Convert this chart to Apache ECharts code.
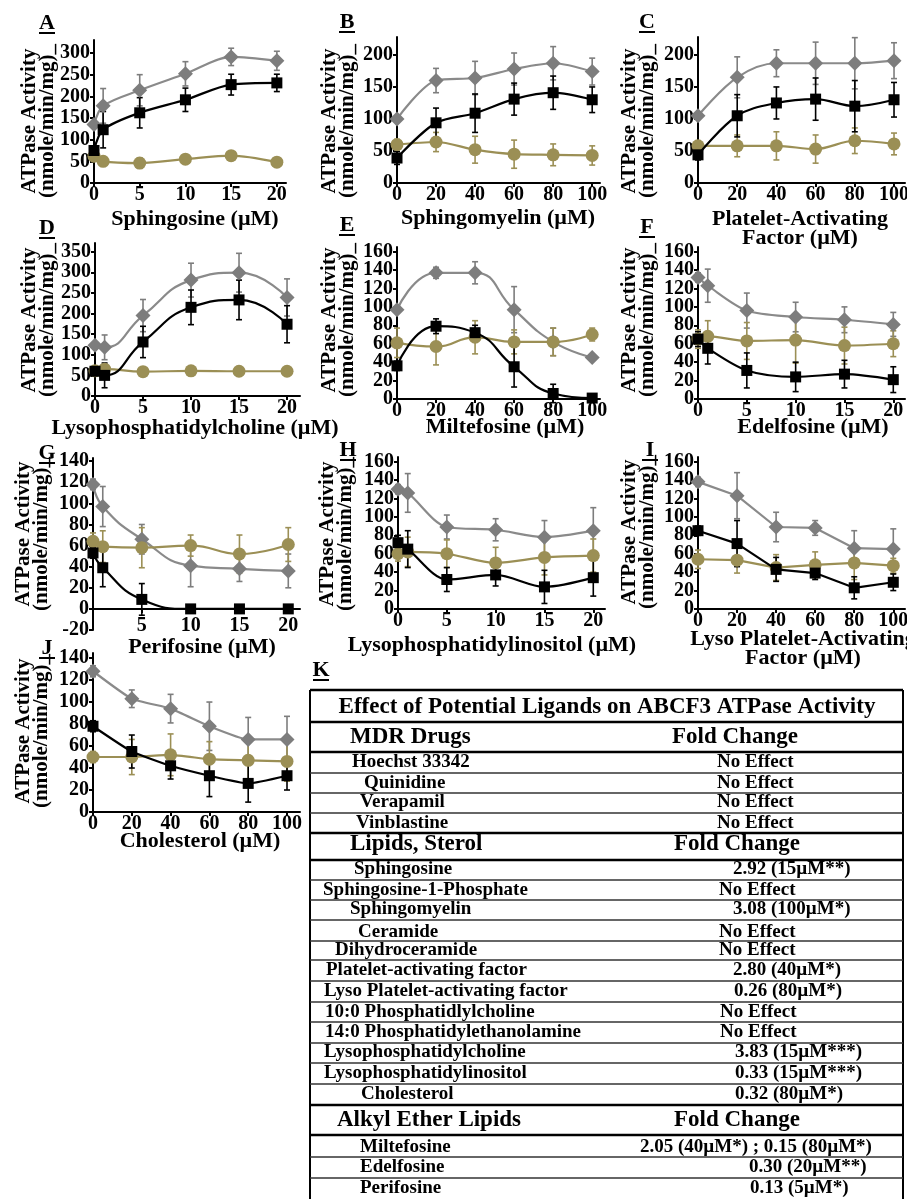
<!DOCTYPE html>
<html><head><meta charset="utf-8">
<script src="https://cdn.jsdelivr.net/npm/echarts@6/dist/echarts.min.js"></script>
<style>html,body{margin:0;padding:0;background:#fff}#c{width:907px;height:1199px}</style>
</head><body><div id="c"></div>
<script>
// ---------------- DATA ----------------
const A_x = [0,1,5,10,15,20];
const A_gray = [135,178,214,252,291,282];   const A_grayErr = [8,40,36,28,20,22];
const A_black = [75,123,162,192,227,231];   const A_blackErr = [10,42,35,27,24,20];
const A_gold = [62,50,46,55,63,48];         const A_goldErr = [12,10,12,6,6,5];

const B_x = [0,20,40,60,80,100];
const B_gray = [100,160,164,178,187,174];   const B_grayErr = [5,19,26,25,26,21];
const B_black = [39,94,109,131,141,130];    const B_blackErr = [10,23,30,25,26,20];
const B_gold = [60,64,52,45,44,43];         const B_goldErr = [8,15,21,22,17,15];

const C_x = [0,20,40,60,80,100];
const C_gray = [105,165,187,187,187,191];   const C_grayErr = [5,32,21,33,40,28];
const C_black = [44,105,125,131,120,130];   const C_blackErr = [8,33,25,33,40,27];
const C_gold = [58,58,58,53,66,61];         const C_goldErr = [8,17,22,22,20,17];

const D_x = [0,1,5,10,15,20];
const D_gray = [123,118,195,281,299,239];   const D_grayErr = [8,30,39,41,47,45];
const D_black = [60,50,131,215,233,174];    const D_blackErr = [8,30,38,42,48,45];
const D_gold = [61,65,59,61,60,60];         const D_goldErr = [6,6,5,5,4,5];

const E_x = [0,20,40,60,80,100];
const E_gray = [97,137,137,97,62,45];       const E_grayErr = [3,6,12,25,15,3];
const E_black = [36,79,72,35,6,1];          const E_blackErr = [5,8,8,22,10,1];
const E_gold = [61,57,67,62,62,70];         const E_goldErr = [16,20,18,13,15,7];

const F_x = [0,1,5,10,15,20];
const F_gray = [132,123,96,89,86,81];       const F_grayErr = [5,18,19,16,14,13];
const F_black = [65,55,31,24,27,21];        const F_blackErr = [8,17,19,16,15,14];
const F_gold = [65,68,63,64,58,60];         const F_goldErr = [10,17,20,25,20,14];

const G_x = [0,1,5,10,15,20];
const G_gray = [118,97,66,41,38,36];        const G_grayErr = [5,19,14,20,12,16];
const G_black = [53,39,9,0,0,0];            const G_blackErr = [5,18,15,1,1,1];
const G_gold = [64,59,58,60,52,61];         const G_goldErr = [8,15,19,10,18,16];

const H_x = [0,1,5,10,15,20];
const H_gray = [130,126,89,86,78,85];       const H_grayErr = [5,21,13,12,18,25];
const H_black = [72,65,32,37,24,34];        const H_blackErr = [8,20,13,12,18,20];
const H_gold = [60,62,60,50,56,58];         const H_goldErr = [8,16,15,17,19,18];

const I_x = [0,20,40,60,80,100];
const I_gray = [138,123,89,88,66,65];       const I_grayErr = [5,25,16,8,19,22];
const I_black = [85,71,43,39,23,29];        const I_blackErr = [5,25,13,7,12,9];
const I_gold = [54,53,45,48,50,47];         const I_goldErr = [10,14,14,14,18,8];

const J_x = [0,20,40,60,80,100];
const J_gray = [128,103,94,78,66,66];       const J_grayErr = [5,8,13,22,20,21];
const J_black = [78,55,42,33,26,33];        const J_blackErr = [5,15,12,19,17,13];
const J_gold = [50,50,52,48,47,46];         const J_goldErr = [5,16,19,16,18,18];

// tick labels
const ticks0to20 = [0,5,10,15,20];
const ticks5to20 = [5,10,15,20];
const ticks0to100 = [0,20,40,60,80,100];
const yTicks300 = [0,50,100,150,200,250,300];
const yTicks200 = [0,50,100,150,200];
const yTicks350 = [0,50,100,150,200,250,300,350];
const yTicks160 = [0,20,40,60,80,100,120,140,160];
const yTicksNeg = [-20,0,20,40,60,80,100,120,140];
const yTicks140 = [0,20,40,60,80,100,120,140];

const letters = ['A','B','C','D','E','F','G','H','I','J'];
const xNames = ['Sphingosine (µM)','Sphingomyelin (µM)','Platelet-Activating\nFactor (µM)',
  'Lysophosphatidylcholine (µM)','Miltefosine (µM)','Edelfosine (µM)','Perifosine (µM)',
  'Lysophosphatidylinositol (µM)','Lyso Platelet-Activating\nFactor (µM)','Cholesterol (µM)'];
const yTitle = 'ATPase Activity\n(nmole/min/mg)_';

// table
const tableLetter = 'K';
const tableTitle = 'Effect of Potential Ligands on ABCF3 ATPase Activity';
const sectionNames = ['MDR Drugs','Lipids, Sterol','Alkyl Ether Lipids'];
const sectionValue = 'Fold Change';
const rowNames = ['Hoechst 33342','Quinidine','Verapamil','Vinblastine','Sphingosine','Sphingosine-1-Phosphate',
  'Sphingomyelin','Ceramide','Dihydroceramide','Platelet-activating factor','Lyso Platelet-activating factor',
  '10:0 Phosphatidlylcholine','14:0 Phosphatidylethanolamine','Lysophosphatidylcholine','Lysophosphatidylinositol',
  'Cholesterol','Miltefosine','Edelfosine','Perifosine'];
const rowValues = ['No Effect','No Effect','No Effect','No Effect','2.92 (15µM**)','No Effect','3.08 (100µM*)',
  'No Effect','No Effect','2.80 (40µM*)','0.26 (80µM*)','No Effect','No Effect','3.83 (15µM***)','0.33 (15µM***)',
  '0.32 (80µM*)','2.05 (40µM*) ; 0.15 (80µM*)','0.30 (20µM**)','0.13 (5µM*)'];

// ---------------- LAYOUT ----------------
const FONT = '"Liberation Serif","Times New Roman",serif';
const COL = {gray:'#7d7d7d', grayLine:'#8a8a8a', black:'#000000', gold:'#9b8f55'};

const panels = [
 {x:A_x,g:A_gray,ge:A_grayErr,b:A_black,be:A_blackErr,o:A_gold,oe:A_goldErr,xt:ticks0to20,yt:yTicks300,
  L:{left:94,top:40,right:286,bottom:183,xMax:21,yMin:0,yMax:330,sm:0.3,lx:47,ly:23,tx:38.5,ty:121,nx:195,ny:219,xlm:2}},
 {x:B_x,g:B_gray,ge:B_grayErr,b:B_black,be:B_blackErr,o:B_gold,oe:B_goldErr,xt:ticks0to100,yt:yTicks200,
  L:{left:397,top:37,right:600,bottom:183,xMax:104,yMin:0,yMax:228,sm:0.3,lx:347,ly:22,tx:338.5,ty:121,nx:498,ny:218,xlm:2}},
 {x:C_x,g:C_gray,ge:C_grayErr,b:C_black,be:C_blackErr,o:C_gold,oe:C_goldErr,xt:ticks0to100,yt:yTicks200,
  L:{left:698,top:37,right:905,bottom:183,xMax:105.6,yMin:0,yMax:228,sm:0.35,lx:647,ly:22,tx:639,ty:121,nx:800,ny:229,xlm:2}},
 {x:D_x,g:D_gray,ge:D_grayErr,b:D_black,be:D_blackErr,o:D_gold,oe:D_goldErr,xt:ticks0to20,yt:yTicks350,
  L:{left:95,top:243,right:300,bottom:396,xMax:21.35,yMin:0,yMax:371,sm:0.5,lx:47,ly:228,tx:39,ty:320,nx:195,ny:428,xlm:2}},
 {x:E_x,g:E_gray,ge:E_grayErr,b:E_black,be:E_blackErr,o:E_gold,oe:E_goldErr,xt:ticks0to100,yt:yTicks160,
  L:{left:397,top:247,right:600,bottom:399,xMax:104,yMin:0,yMax:165,sm:0.5,lx:347,ly:225,tx:339,ty:320,nx:505,ny:427,xlm:2}},
 {x:F_x,g:F_gray,ge:F_grayErr,b:F_black,be:F_blackErr,o:F_gold,oe:F_goldErr,xt:ticks0to20,yt:yTicks160,
  L:{left:698,top:247,right:905,bottom:399,xMax:21.2,yMin:0,yMax:165,sm:0.3,lx:647,ly:227,tx:639,ty:320,nx:813,ny:427,xlm:2}},
 {x:G_x,g:G_gray,ge:G_grayErr,b:G_black,be:G_blackErr,o:G_gold,oe:G_goldErr,xt:ticks0to20,xl:ticks5to20,yt:yTicksNeg,
  L:{left:93,top:458,right:300,bottom:630,xMax:21.2,yMin:-20,yMax:143,sm:0.5,lx:47,ly:453,tx:33,ty:534,nx:202,ny:647,xlm:-14}},
 {x:H_x,g:H_gray,ge:H_grayErr,b:H_black,be:H_blackErr,o:H_gold,oe:H_goldErr,xt:ticks0to20,yt:yTicks160,
  L:{left:398,top:457,right:605,bottom:609,xMax:21.2,yMin:0,yMax:165,sm:0.3,lx:348,ly:450,tx:337,ty:534,nx:492,ny:645,xlm:2}},
 {x:I_x,g:I_gray,ge:I_grayErr,b:I_black,be:I_blackErr,o:I_gold,oe:I_goldErr,xt:ticks0to100,yt:yTicks160,
  L:{left:698,top:457,right:905,bottom:609,xMax:106,yMin:0,yMax:165,sm:0,lx:650,ly:450,tx:639,ty:532,nx:803,ny:649,xlm:2}},
 {x:J_x,g:J_gray,ge:J_grayErr,b:J_black,be:J_blackErr,o:J_gold,oe:J_goldErr,xt:ticks0to100,yt:yTicks140,
  L:{left:93,top:653,right:300,bottom:812,xMax:106.7,yMin:0,yMax:144.6,sm:0.15,lx:47,ly:648,tx:33,ty:731,nx:200,ny:841,xlm:2}}
];

// table layout
const TBL = {left:310,right:903,top:690,titleX:607,titleY:707,letterX:321,letterY:670};
const secY = [737,844,1120];
const secX = [350,350,337];
const secValX = [672,674,674];
const rowY = [762,783,802,823,869,890,909,932,950,970,991,1012,1032,1052,1073,1094,1147,1167,1188];
const rowX = [352,364,360,356,354,323,350,358,335,326,324,325,325,324,324,361,360,360,360];
const rowValX = [717,717,717,717,733,719,733,719,719,733,734,720,720,735,735,735,640,749,750];
const thinLines = [773,793,813,880,900,920,941,960,981,1002,1022,1043,1063,1084,1157,1178];
const thickLines = [690,722,752,833,860,1105,1135];

// ---------------- BUILD ----------------
const grids=[], xAxes=[], yAxes=[], yAxesExtra=[], series=[], gfx=[];
const labelStyle = {fontFamily:FONT,fontWeight:'bold',fontSize:20,color:'#000',interval:0,showMinLabel:true,showMaxLabel:true,hideOverlap:false};
const axisLineStyle = {color:'#000',width:2};

function errSeries(idx, data, color){
  return {type:'custom', xAxisIndex:idx, yAxisIndex:idx, silent:true, z:1, data:data,
    renderItem:function(params, api){
      const x=api.value(0), y=api.value(1), e=api.value(2);
      const p0=api.coord([x,y-e]), p1=api.coord([x,y+e]);
      const cw=3, st={stroke:color,lineWidth:1.6};
      return {type:'group',children:[
        {type:'line',shape:{x1:p0[0],y1:p0[1],x2:p1[0],y2:p1[1]},style:st},
        {type:'line',shape:{x1:p1[0]-cw,y1:p1[1],x2:p1[0]+cw,y2:p1[1]},style:st},
        {type:'line',shape:{x1:p0[0]-cw,y1:p0[1],x2:p0[0]+cw,y2:p0[1]},style:st}
      ]};
    }};
}
function lineSeries(idx, data, sym, size, color, lineColor, sm, z){
  return {type:'line', xAxisIndex:idx, yAxisIndex:idx, data:data, symbol:sym, symbolSize:size,
    smooth:sm, z:z, showSymbol:true, clip:false,
    lineStyle:{color:lineColor,width:2.2}, itemStyle:{color:color, borderWidth:0}};
}

panels.forEach(function(P,i){
  const L=P.L;
  const evenLabels = P.yt.filter(function(v,k){ return k%2===0; });
  const oddLabels = P.yt.filter(function(v,k){ return k%2===1; });
  grids.push({left:L.left, top:L.top, width:L.right-L.left, height:L.bottom-L.top, outerBoundsMode:'none', containLabel:false});
  xAxes.push({type:'value', gridIndex:i, min:0, max:L.xMax,
    axisLine:{show:true,onZero:true,lineStyle:axisLineStyle},
    axisTick:{show:true,length:4,lineStyle:axisLineStyle,customValues:P.xt},
    axisLabel:Object.assign({customValues:P.xl||P.xt, margin:L.xlm}, labelStyle),
    splitLine:{show:false}});
  yAxes.push({type:'value', gridIndex:i, min:L.yMin, max:L.yMax,
    axisLine:{show:true,onZero:false,lineStyle:axisLineStyle},
    axisTick:{show:true,length:4,lineStyle:axisLineStyle,customValues:P.yt},
    axisLabel:Object.assign({customValues:evenLabels, margin:4}, labelStyle),
    splitLine:{show:false}});
  yAxesExtra.push({type:'value', gridIndex:i, min:L.yMin, max:L.yMax, position:'left', offset:0,
    axisLine:{show:false,onZero:false}, axisTick:{show:false},
    axisLabel:Object.assign({customValues:oddLabels, margin:4}, labelStyle),
    splitLine:{show:false}});
  const d = function(v,e){ return P.x.map(function(x,k){ return [x, v[k], e[k]]; }); };
  series.push(errSeries(i, d(P.g,P.ge), COL.gray));
  series.push(errSeries(i, d(P.o,P.oe), COL.gold));
  series.push(errSeries(i, d(P.b,P.be), COL.black));
  const p = function(v){ return P.x.map(function(x,k){ return [x, v[k]]; }); };
  series.push(lineSeries(i, p(P.g), 'diamond', 15, COL.gray, COL.grayLine, L.sm, 2));
  series.push(lineSeries(i, p(P.o), 'circle', 13, COL.gold, COL.gold, L.sm, 3));
  series.push(lineSeries(i, p(P.b), 'rect', 11, COL.black, COL.black, L.sm, 4));

  gfx.push({type:'text', x:L.lx, y:L.ly, style:{text:letters[i], font:'bold 22px '+FONT, fill:'#000', textAlign:'center', textVerticalAlign:'middle'}});
  gfx.push({type:'rect', shape:{x:L.lx-8, y:L.ly+9, width:16, height:2}, style:{fill:'#000'}});
  gfx.push({type:'text', x:L.tx, y:L.ty, rotation:Math.PI/2,
    style:{text:yTitle, font:'bold 21px '+FONT, fill:'#000', textAlign:'center', textVerticalAlign:'middle', lineHeight:18}});
  gfx.push({type:'text', x:L.nx, y:L.ny,
    style:{text:xNames[i], font:'bold 22px '+FONT, fill:'#000', textAlign:'center', textVerticalAlign:'middle', lineHeight:19}});
});

// table
gfx.push({type:'text', x:TBL.letterX, y:TBL.letterY, style:{text:tableLetter, font:'bold 22px '+FONT, fill:'#000', textAlign:'center', textVerticalAlign:'middle'}});
gfx.push({type:'rect', shape:{x:TBL.letterX-8, y:TBL.letterY+9, width:16, height:2}, style:{fill:'#000'}});
const tblBottom = 1205;
gfx.push({type:'line', shape:{x1:TBL.left, y1:TBL.top, x2:TBL.left, y2:tblBottom}, style:{stroke:'#000', lineWidth:2}});
gfx.push({type:'line', shape:{x1:TBL.right, y1:TBL.top, x2:TBL.right, y2:tblBottom}, style:{stroke:'#000', lineWidth:2}});
thickLines.forEach(function(y){ gfx.push({type:'line', shape:{x1:TBL.left, y1:y, x2:TBL.right, y2:y}, style:{stroke:'#000', lineWidth:2.4}}); });
thinLines.forEach(function(y){ gfx.push({type:'line', shape:{x1:TBL.left, y1:y, x2:TBL.right, y2:y}, style:{stroke:'#333', lineWidth:1.3}}); });
gfx.push({type:'text', x:TBL.titleX, y:TBL.titleY, style:{text:tableTitle, font:'bold 23px '+FONT, fill:'#000', textAlign:'center', textVerticalAlign:'middle'}});
sectionNames.forEach(function(s,k){
  gfx.push({type:'text', x:secX[k], y:secY[k], style:{text:s, font:'bold 23px '+FONT, fill:'#000', textAlign:'left', textVerticalAlign:'middle'}});
  gfx.push({type:'text', x:secValX[k], y:secY[k], style:{text:sectionValue, font:'bold 23px '+FONT, fill:'#000', textAlign:'left', textVerticalAlign:'middle'}});
});
rowNames.forEach(function(s,k){
  gfx.push({type:'text', x:rowX[k], y:rowY[k], style:{text:s, font:'bold 19px '+FONT, fill:'#000', textAlign:'left', textVerticalAlign:'middle'}});
  gfx.push({type:'text', x:rowValX[k], y:rowY[k], style:{text:rowValues[k], font:'bold 19px '+FONT, fill:'#000', textAlign:'left', textVerticalAlign:'middle'}});
});

const chart = echarts.init(document.getElementById('c'), null, {renderer:'canvas'});
chart.setOption({
  animation:false, backgroundColor:'#fff',
  grid:grids, xAxis:xAxes, yAxis:yAxes.concat(yAxesExtra), series:series,
  graphic:{elements:gfx}
});
</script></body></html>
